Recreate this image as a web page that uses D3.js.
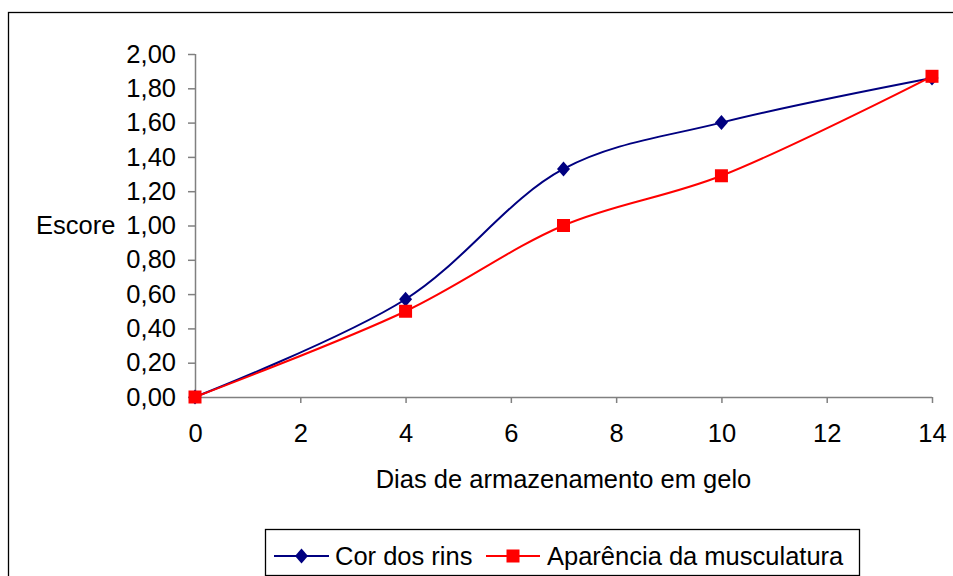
<!DOCTYPE html>
<html>
<head>
<meta charset="utf-8">
<script src="https://cdn.jsdelivr.net/npm/d3@7"></script>
<style>
  html, body { margin: 0; padding: 0; background: #fff; }
  svg { display: block; font-family: "Liberation Sans", Arial, sans-serif; }
</style>
</head>
<body>
<svg id="chart" width="953" height="576"></svg>
<script>
// Storage days on ice
const days = [0, 4, 7, 10, 14];
// Mean scores per attribute
const corDosRins = [0, 0.57, 1.33, 1.60, 1.86];
const aparenciaMusculatura = [0, 0.50, 1.00, 1.29, 1.87];
const seriesNames = ["Cor dos rins", "Aparência da musculatura"];
const xTicks = [0, 2, 4, 6, 8, 10, 12, 14];
const yTicks = [0, 0.2, 0.4, 0.6, 0.8, 1.0, 1.2, 1.4, 1.6, 1.8, 2.0];

const svg = d3.select("#chart");
const FS = 25.5;

// outer chart frame
svg.append("rect")
  .attr("x", 8.5).attr("y", 12.5)
  .attr("width", 1000).attr("height", 700)
  .attr("fill", "#fff").attr("stroke", "#000").attr("stroke-width", 1.3);

const plot = { left: 195, right: 932, top: 54, bottom: 397 };
const x = d3.scaleLinear().domain([0, 14]).range([plot.left, plot.right]);
const y = d3.scaleLinear().domain([0, 2]).range([plot.bottom, plot.top]);

const fmt = d => d3.format(".2f")(d).replace(".", ",");

// y axis
const yAxis = svg.append("g")
  .attr("transform", `translate(${plot.left},0)`)
  .call(d3.axisLeft(y).tickValues(yTicks).tickFormat(fmt).tickSize(7).tickPadding(12));
// x axis
const xAxis = svg.append("g")
  .attr("transform", `translate(0,${plot.bottom})`)
  .call(d3.axisBottom(x).tickValues(xTicks).tickFormat(d3.format("d")).tickSize(6).tickPadding(21));

[yAxis, xAxis].forEach(g => {
  g.select(".domain").attr("stroke", "#808080").attr("stroke-width", 1.5);
  g.selectAll(".tick line").attr("stroke", "#808080").attr("stroke-width", 1.5);
  g.selectAll(".tick text").attr("fill", "#000").attr("font-size", FS)
    .attr("font-family", "Liberation Sans, Arial, sans-serif");
});
yAxis.select(".domain").attr("d", `M0.5,${plot.top}V${plot.bottom}`);
xAxis.select(".domain").attr("d", `M${plot.left},0.5H${plot.right}`);

// axis titles
svg.append("text").attr("x", 36).attr("y", 234)
  .attr("font-size", FS).attr("fill", "#000").text("Escore");
svg.append("text").attr("x", (plot.left + plot.right) / 2).attr("y", 488)
  .attr("text-anchor", "middle").attr("font-size", FS).attr("fill", "#000")
  .text("Dias de armazenamento em gelo");

const line = d3.line()
  .x(d => x(d[0])).y(d => y(d[1]))
  .curve(d3.curveCatmullRom.alpha(0.5));

const series = [
  { name: seriesNames[0], values: corDosRins, color: "#000080", marker: "diamond" },
  { name: seriesNames[1], values: aparenciaMusculatura, color: "#ff0000", marker: "square" }
];

function drawMarker(g, type, cx, cy, color) {
  if (type === "diamond") {
    g.append("path")
      .attr("d", `M${cx},${cy - 7.5}L${cx + 6.5},${cy}L${cx},${cy + 7.5}L${cx - 6.5},${cy}Z`)
      .attr("fill", color);
  } else {
    g.append("rect").attr("x", cx - 6.5).attr("y", cy - 6.5)
      .attr("width", 13).attr("height", 13).attr("fill", color);
  }
}

series.forEach(s => {
  const pts = days.map((d, i) => [d, s.values[i]]);
  svg.append("path").datum(pts)
    .attr("d", line).attr("fill", "none")
    .attr("stroke", s.color).attr("stroke-width", 2);
});
series.forEach(s => {
  const g = svg.append("g");
  days.forEach((d, i) => drawMarker(g, s.marker, x(d), y(s.values[i]), s.color));
});

// legend
const lg = svg.append("g");
lg.append("rect").attr("x", 265.5).attr("y", 529.5).attr("width", 594).attr("height", 46)
  .attr("fill", "#fff").attr("stroke", "#000").attr("stroke-width", 1.3);
const legendItems = [
  { s: series[0], x0: 274, x1: 329, tx: 335 },
  { s: series[1], x0: 486, x1: 540, tx: 547 }
];
legendItems.forEach(it => {
  const cy = 556;
  lg.append("line").attr("x1", it.x0).attr("x2", it.x1).attr("y1", cy).attr("y2", cy)
    .attr("stroke", it.s.color).attr("stroke-width", 2);
  drawMarker(lg, it.s.marker, (it.x0 + it.x1) / 2, cy, it.s.color);
  lg.append("text").attr("x", it.tx).attr("y", cy + 9)
    .attr("font-size", FS).attr("fill", "#000").text(it.s.name);
});
</script>
</body>
</html>
